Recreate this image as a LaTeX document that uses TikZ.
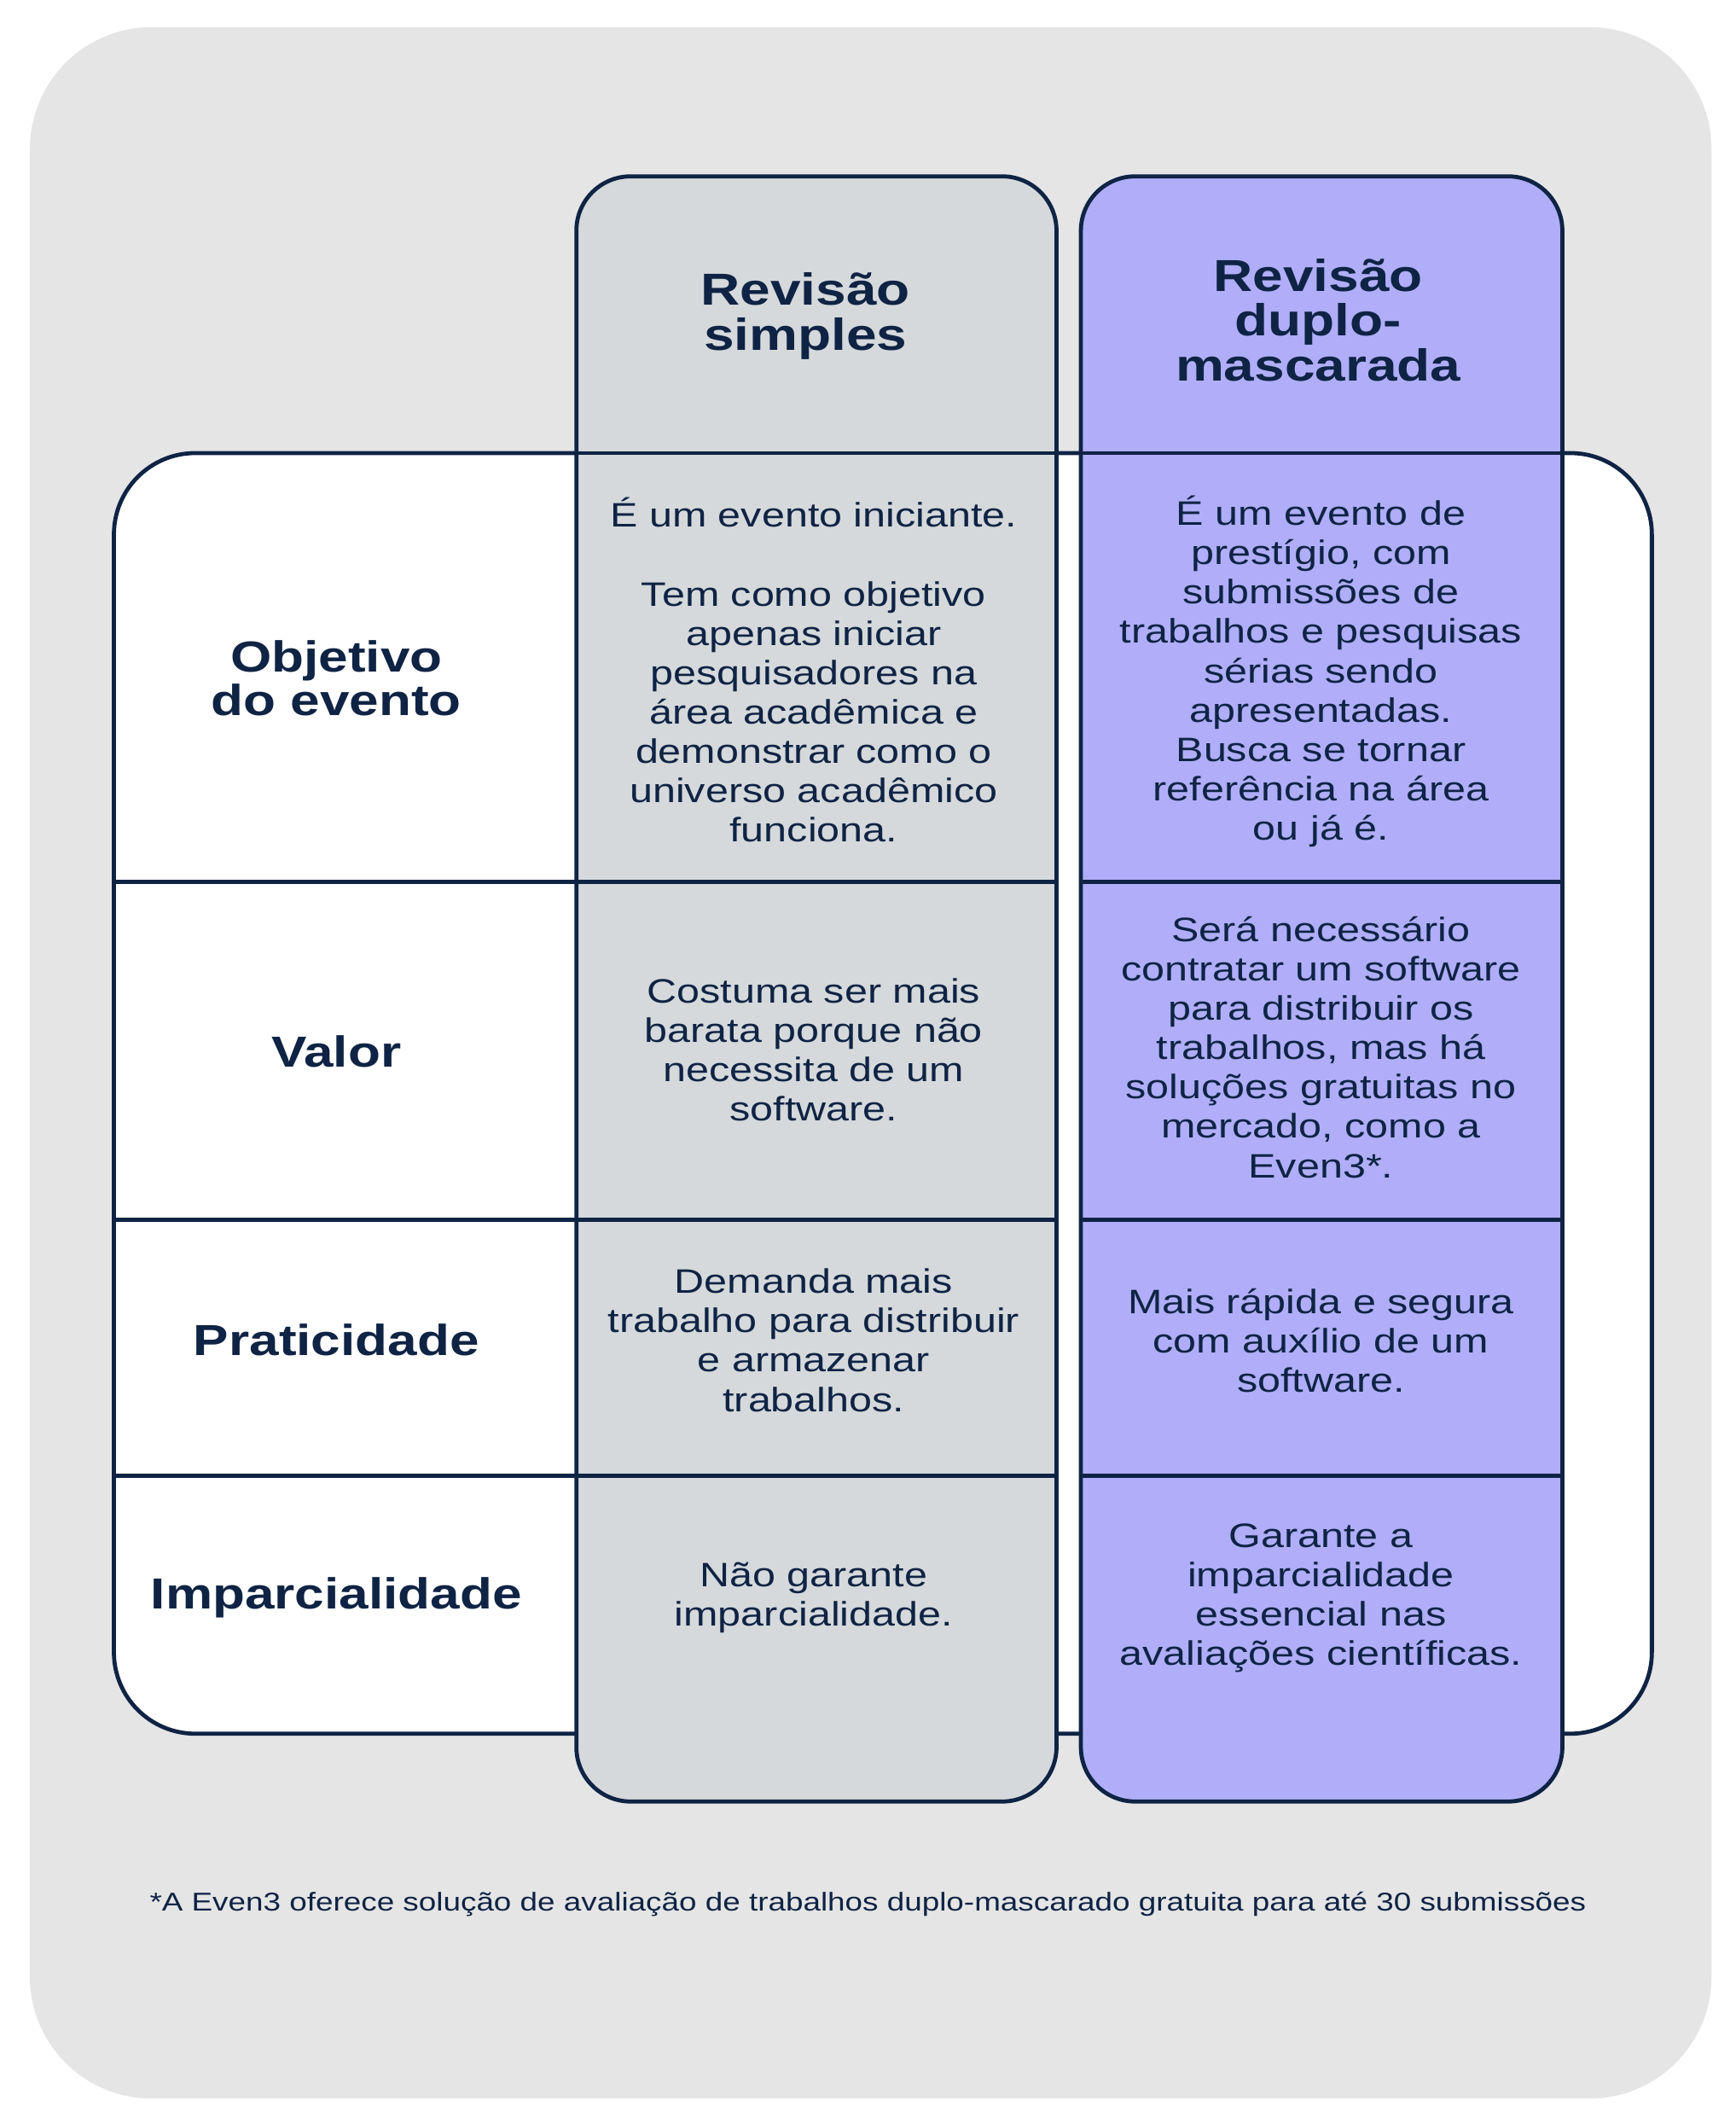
\documentclass[tikz,border=0pt]{standalone}
\usepackage{fontspec}
\setmainfont[FakeStretch=1.22]{Liberation Sans}
\definecolor{navy}{HTML}{0F2344}
\definecolor{bgg}{HTML}{E5E5E5}
\definecolor{colg}{HTML}{D5D9DB}
\definecolor{colp}{HTML}{B0AEF8}
\tikzset{
 cell/.style={text=navy,align=center,font=\fontsize{25}{29}\selectfont},
 lab/.style={text=navy,align=center,font=\fontsize{32}{32}\selectfont\bfseries},
 hd/.style={text=navy,align=center,font=\fontsize{33}{33}\selectfont\bfseries},
 bord/.style={draw=navy,line width=3pt}
}
\begin{document}
\begin{tikzpicture}[x=1pt,y=-1pt]
\useasboundingbox (0,0) rectangle (1280,1565);
\fill[white] (0,0) rectangle (1280,1565);
\fill[bgg,rounded corners=90] (22,20) rectangle (1262,1547);
\draw[bord,fill=white,rounded corners=60] (84,334) rectangle (1218,1278);
\draw[bord,fill=colg,rounded corners=40] (425,130) rectangle (779,1328);
\draw[bord,fill=colp,rounded corners=40] (797,130) rectangle (1152,1328);
\foreach \y in {650,899,1088} {\draw[bord] (84,\y) -- (425,\y);}
\foreach \y in {334,650,899,1088} {\draw[bord] (425,\y)--(779,\y); \draw[bord] (797,\y)--(1152,\y);}
\node[hd] (h1) at (594,233) {Revisão\\simples};
\node[hd] (h2) at (972,236) {Revisão\\duplo-\\mascarada};
\node[lab] (l1) at (248,500) {Objetivo\\do evento};
\node[lab] (l2) at (248,775) {Valor};
\node[lab] (l3) at (248,988) {Praticidade};
\node[lab] (l4) at (248,1178) {Imparcialidade};
\node[cell] (g1) at (600,494) {É um evento iniciante.\\[29pt]Tem como objetivo\\apenas iniciar\\pesquisadores na\\área acadêmica e\\demonstrar como o\\universo acadêmico\\funciona.};
\node[cell] (p1) at (974,495) {É um evento de\\prestígio, com\\submissões de\\trabalhos e pesquisas\\sérias sendo\\apresentadas.\\Busca se tornar\\referência na área\\ou já é.};
\node[cell] (g2) at (600,774) {Costuma ser mais\\barata porque não\\necessita de um\\software.};
\node[cell] (p2) at (974,772) {Será necessário\\contratar um software\\para distribuir os\\trabalhos, mas há\\soluções gratuitas no\\mercado, como a\\Even3*.};
\node[cell] (g3) at (600,988) {Demanda mais\\trabalho para distribuir\\e armazenar\\trabalhos.};
\node[cell] (p3) at (974,988) {Mais rápida e segura\\com auxílio de um\\software.};
\node[cell] (g4) at (600,1178) {Não garante\\imparcialidade.};
\node[cell] (p4) at (974,1178) {Garante a\\imparcialidade\\essencial nas\\avaliações científicas.};
\node[text=navy,font=\fontsize{19}{22}\selectfont] (fn) at (640,1404) {*A Even3 oferece solução de avaliação de trabalhos duplo-mascarado gratuita para até 30 submissões};
\end{tikzpicture}
\end{document}
